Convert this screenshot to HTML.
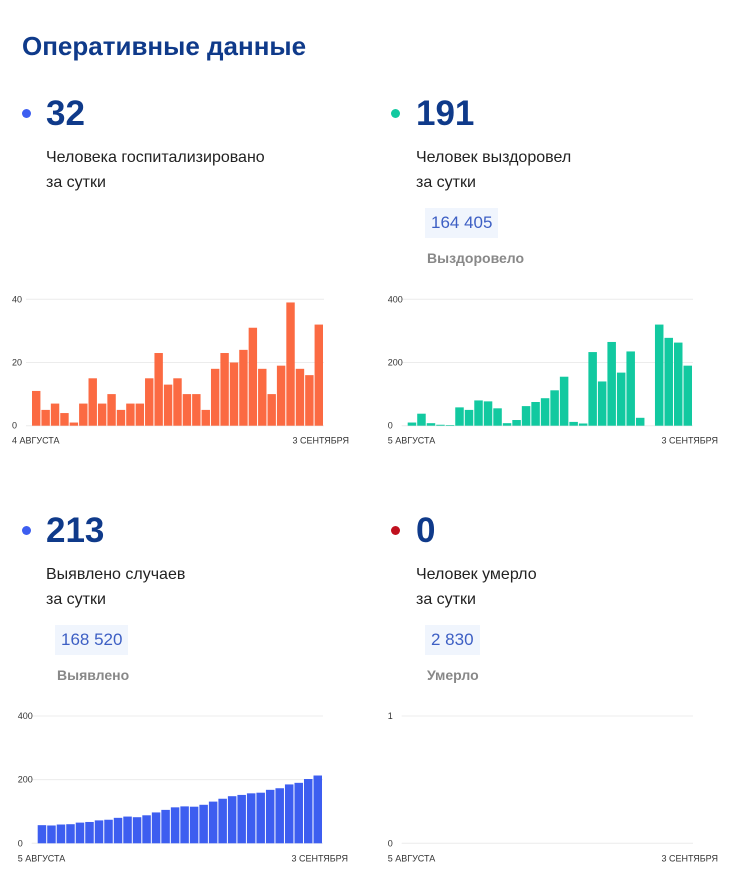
<!DOCTYPE html>
<html><head><meta charset="utf-8">
<style>
body{margin:0;width:733px;height:885px;background:#fff;font-family:"Liberation Sans",sans-serif;position:relative;overflow:hidden}
.a{position:absolute;white-space:nowrap}
.title{left:22px;top:31px;font-size:26px;font-weight:bold;color:#0f3a8a}
.dot{width:9px;height:9px;border-radius:50%}
.big{font-size:35px;font-weight:bold;color:#0f3a8a;line-height:36px}
.lbl{font-size:16px;color:#222;line-height:25px}
.pill{background:#f0f5fd;color:#3d5fc4;font-size:17px;padding:4px 6px;line-height:22px}
.sub{font-size:14px;font-weight:bold;color:#888}
svg{position:absolute;left:0;top:0}
</style></head><body>
<div class="a title">Оперативные данные</div>

<div class="a dot" style="left:22px;top:109px;background:#3d5ef0"></div>
<div class="a big" style="left:46px;top:96px">32</div>
<div class="a lbl" style="left:46px;top:145px">Человека госпитализировано<br>за сутки</div>

<div class="a dot" style="left:391px;top:109px;background:#12c9a0"></div>
<div class="a big" style="left:416px;top:96px">191</div>
<div class="a lbl" style="left:416px;top:145px">Человек выздоровел<br>за сутки</div>
<div class="a pill" style="left:425px;top:208px">164 405</div>
<div class="a sub" style="left:427px;top:250px">Выздоровело</div>

<div class="a dot" style="left:22px;top:526px;background:#3d5ef0"></div>
<div class="a big" style="left:46px;top:513px">213</div>
<div class="a lbl" style="left:46px;top:562px">Выявлено случаев<br>за сутки</div>
<div class="a pill" style="left:55px;top:625px">168 520</div>
<div class="a sub" style="left:57px;top:667px">Выявлено</div>

<div class="a dot" style="left:391px;top:526px;background:#c0101e"></div>
<div class="a big" style="left:416px;top:513px">0</div>
<div class="a lbl" style="left:416px;top:562px">Человек умерло<br>за сутки</div>
<div class="a pill" style="left:425px;top:625px">2 830</div>
<div class="a sub" style="left:427px;top:667px">Умерло</div>

<svg id="s" width="733" height="885"></svg>
<script>
const hospValues=[11,5,7,4,1,7,15,7,10,5,7,7,15,23,13,15,10,10,5,18,23,20,24,31,18,10,19,39,18,16,32];
const hospTicks=[0,20,40];
const recValues=[10,38,8,3,2,58,50,80,77,55,8,18,62,75,87,112,155,12,7,233,140,265,168,235,25,0,320,278,263,190];
const recTicks=[0,200,400];
const caseValues=[57,56,59,60,65,67,72,74,80,84,82,88,97,105,113,116,115,121,131,140,148,152,157,159,168,173,185,190,202,213];
const caseTicks=[0,200,400];
const deathValues=[];
const deathTicks=[0,1];
const svg=document.getElementById('s');
const NS='http://www.w3.org/2000/svg';
function mk(t,at){const e=document.createElementNS(NS,t);for(const k in at)e.setAttribute(k,at[k]);svg.appendChild(e);return e;}
function chart(name,vals,ticks,max,x0,x1,y0,yTop,color,startLbl,endLbl,n){
  const y=v=>y0-(v/max)*(y0-yTop);
  ticks.forEach(t=>{
    const g=mk('line',{x1:x0-6,x2:x1,y1:y(t),y2:y(t),stroke:'#ececec','stroke-width':1});
    
    
    const tx=mk('text',{x:x0-20,y:y(t)+3,'font-size':9,fill:'#333','font-family':'Liberation Sans, sans-serif'});
    tx.textContent=t;
    
    
  });
  const bw=(x1-x0)/n;
  vals.forEach((v,i)=>{
    const r=mk('rect',{x:x0+i*bw,y:y(v),width:bw-1,height:y0-y(v),fill:color});
    
    
  });
  const a=mk('text',{x:x0-20,y:y0+18,'font-size':9,fill:'#333','font-family':'Liberation Sans, sans-serif'});
  a.textContent=startLbl;
  
  
  const b=mk('text',{x:x1+25,y:y0+18,'font-size':9,fill:'#333','text-anchor':'end','font-family':'Liberation Sans, sans-serif'});
  b.textContent=endLbl;
  
  
}
chart('hospitalized',hospValues,hospTicks,40,32,324,425.7,299.3,'#fb6a42','4 АВГУСТА','3 СЕНТЯБРЯ',31);
chart('recovered',recValues,recTicks,400,407.7,693,425.7,299.3,'#12c9a0','5 АВГУСТА','3 СЕНТЯБРЯ',30);
chart('cases',caseValues,caseTicks,400,37.7,323,843.3,716,'#3d5ef0','5 АВГУСТА','3 СЕНТЯБРЯ',30);
chart('deaths',deathValues,deathTicks,1,407.7,693,843.3,716,'#c0101e','5 АВГУСТА','3 СЕНТЯБРЯ',30);
</script>
</body></html>
